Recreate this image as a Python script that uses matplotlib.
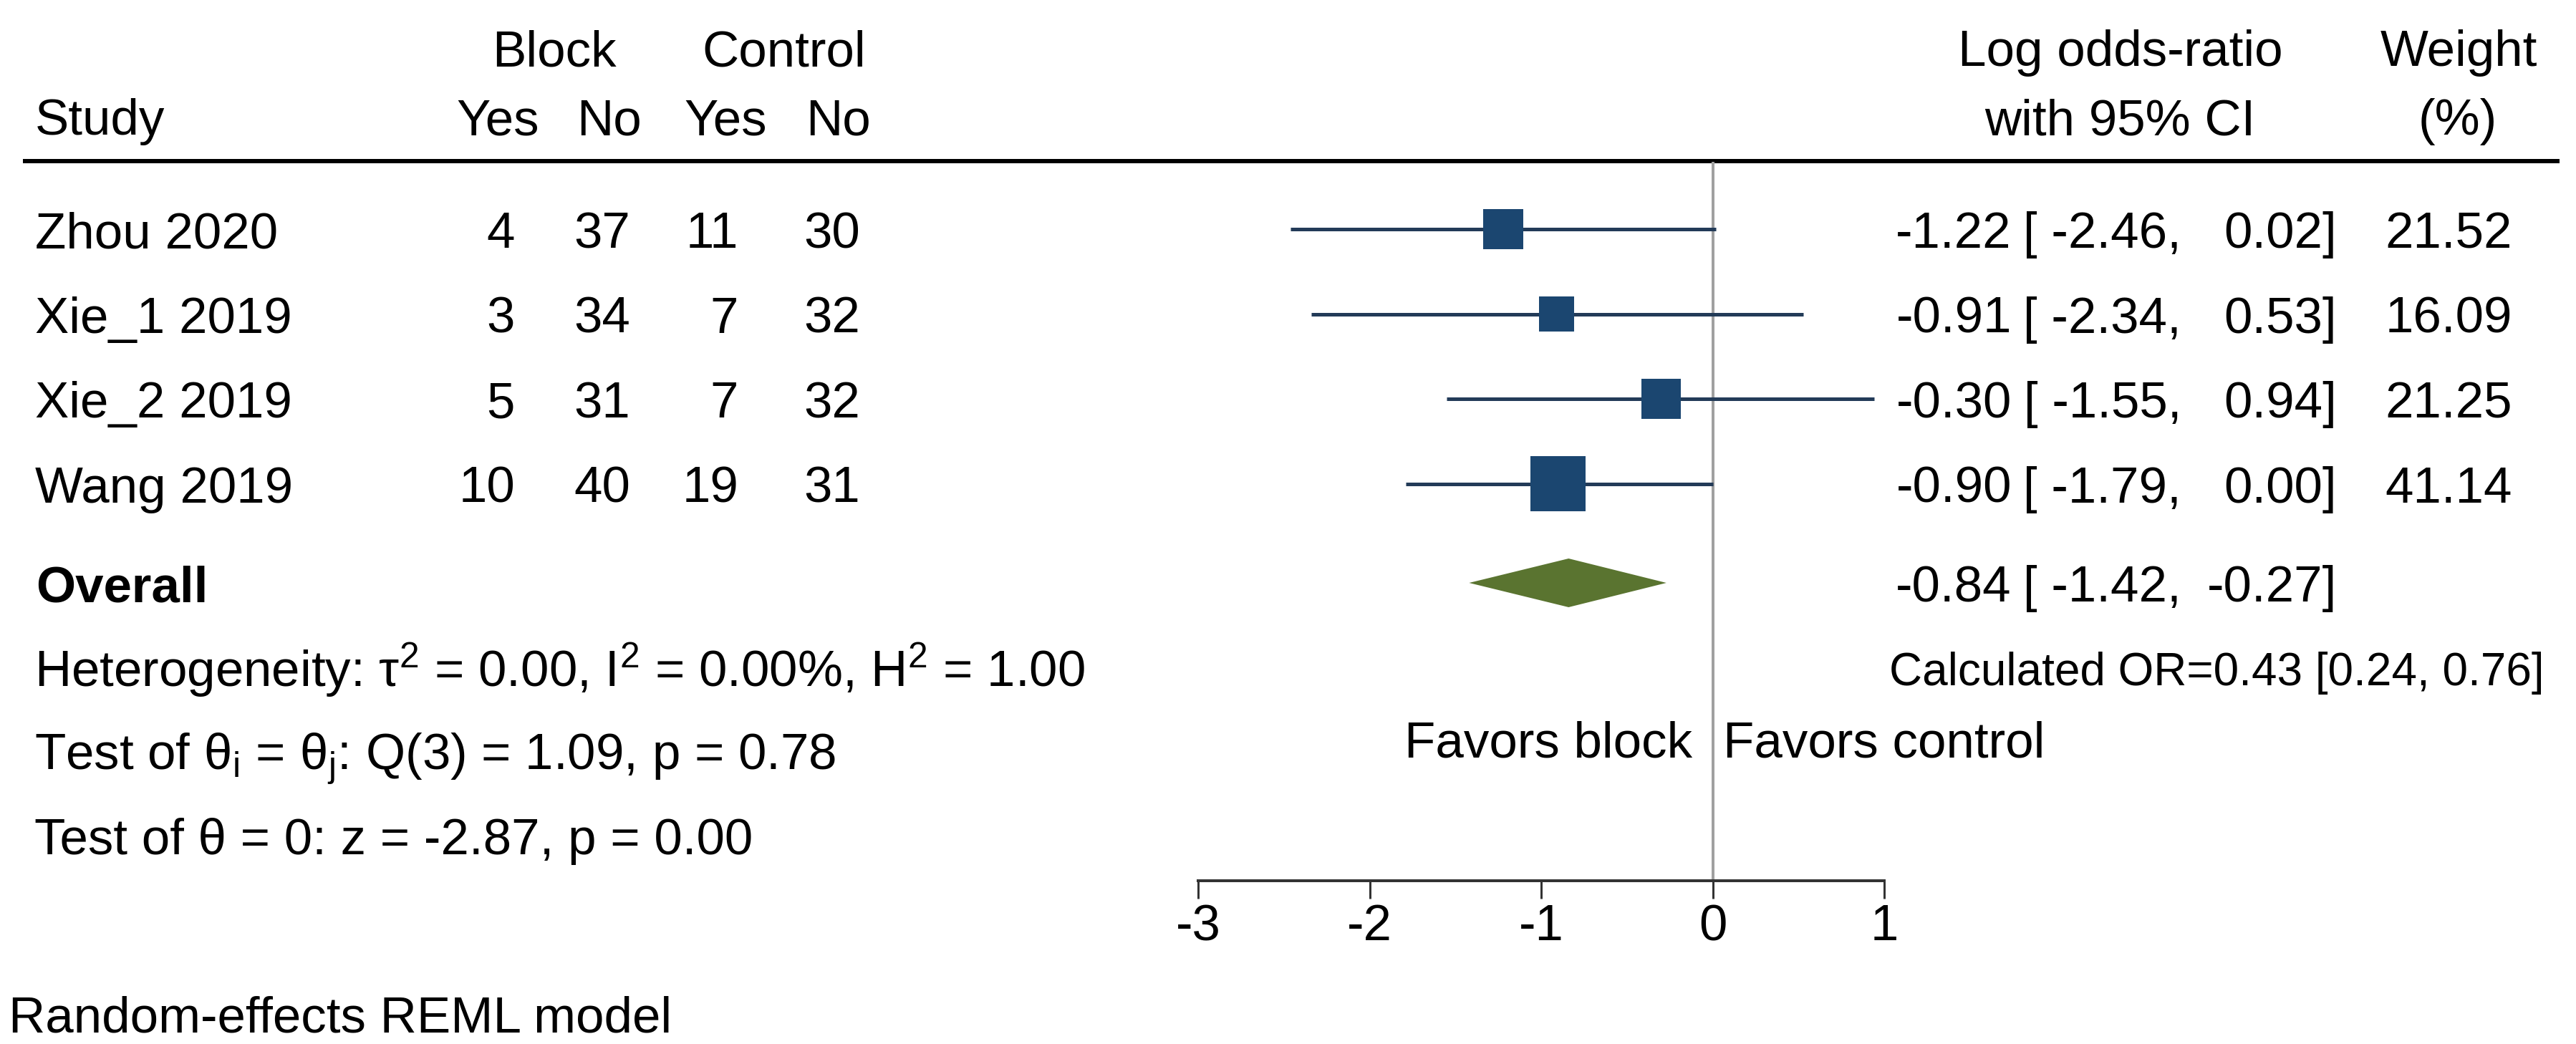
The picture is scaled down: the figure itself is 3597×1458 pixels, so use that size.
import numpy as np
import matplotlib
matplotlib.use("Agg")
import matplotlib.pyplot as plt
from matplotlib.patches import Polygon

plt.rcParams['font.family'] = ['Liberation Sans', 'DejaVu Sans']
plt.rcParams['mathtext.fontset'] = 'custom'
plt.rcParams['mathtext.rm'] = 'Liberation Sans'
plt.rcParams['mathtext.it'] = 'Liberation Sans:italic'
plt.rcParams['axes.unicode_minus'] = False

# data
studies = ["Zhou 2020", "Xie_1 2019", "Xie_2 2019", "Wang 2019"]
block_yes = [4, 3, 5, 10]
block_no = [37, 34, 31, 40]
ctrl_yes = [11, 7, 7, 19]
ctrl_no = [30, 32, 32, 31]
log_or = [-1.22, -0.91, -0.30, -0.90]
ci_lo = [-2.46, -2.34, -1.55, -1.79]
ci_hi = [0.02, 0.53, 0.94, 0.00]
weight = [21.52, 16.09, 21.25, 41.14]
overall = [-0.84, -1.42, -0.27]   # estimate, lower, upper
xticks = [-3, -2, -1, 0, 1]

W, H = 3597, 1458
DPI = 100
FS = 51
PT = 72.0 / DPI   # points per pixel

fig = plt.figure(figsize=(W / DPI, H / DPI), dpi=DPI)
fig.patch.set_facecolor('white')

# layout axes in pixel units (text, rule)
lay = fig.add_axes([0, 0, 1, 1])
lay.set_xlim(0, W)
lay.set_ylim(H, 0)
lay.axis('off')

# forest axes: x in log odds, y in pixel rows
x0_px, x1_px = 1673, 2631
ax = fig.add_axes([x0_px / W, 0, (x1_px - x0_px) / W, 1])
ax.set_xlim(-3, 1)
ax.set_ylim(H, 0)
ax.patch.set_alpha(0)

row0, step = 320, 118.5
rows_y = row0 + step * np.arange(len(studies))
overall_y = 814
axis_y = 1230

# zero reference line
ax.plot([0, 0], [228, axis_y], color='#a0a0a0', lw=4 * PT, zorder=1)

# CIs and weighted squares
ax.hlines(rows_y, ci_lo, ci_hi, color='#233b58', lw=5 * PT, zorder=2)
side_px = 77 * np.sqrt(np.array(weight) / max(weight))
ax.scatter(log_or, rows_y, marker='s', s=(side_px * PT) ** 2,
           color='#1b4670', linewidths=0, zorder=3)

# overall diamond
est, lo, hi = overall
dh = 34
diamond = Polygon([[lo, overall_y], [est, overall_y - dh], [hi, overall_y], [est, overall_y + dh]],
                  closed=True, facecolor='#5a7430', edgecolor='none', zorder=3)
ax.add_patch(diamond)

# x axis
for s in ['left', 'right', 'top']:
    ax.spines[s].set_visible(False)
ax.spines['bottom'].set_position(('data', axis_y))
ax.spines['bottom'].set_bounds(-3, 1)
ax.spines['bottom'].set_linewidth(4 * PT)
ax.spines['bottom'].set_color('#333333')
ax.set_xticks(xticks)
ax.set_xticklabels([str(t) for t in xticks])
ax.tick_params(axis='x', length=25 * PT, width=3 * PT, color='#333333',
               pad=7 * PT, labelsize=FS, direction='out')
ax.set_yticks([])

# header
lay.plot([32, 3574], [225, 225], color='black', lw=6 * PT, solid_capstyle='butt')
lay.text(774, 92, "Block", fontsize=FS, ha='center', va='baseline')
lay.text(1095, 92, "Control", fontsize=FS, ha='center', va='baseline')
lay.text(49, 188, "Study", fontsize=FS, ha='left', va='baseline')
for lab, xr in zip(["Yes", "No", "Yes", "No"], [753, 896, 1071, 1216]):
    lay.text(xr, 188, lab, fontsize=FS, ha='right', va='baseline')
lay.text(2961, 92, "Log odds-ratio", fontsize=FS, ha='center', va='baseline')
lay.text(2960, 188, "with 95% CI", fontsize=FS, ha='center', va='baseline')
lay.text(3433, 92, "Weight", fontsize=FS, ha='center', va='baseline')
lay.text(3432, 188, "(%)", fontsize=FS, ha='center', va='baseline')

# study rows
cols = [block_yes, block_no, ctrl_yes, ctrl_no]
col_right = [719, 880, 1031, 1201]
for i, name in enumerate(studies):
    yb = rows_y[i] + 26
    lay.text(49, yb, name, fontsize=FS, ha='left', va='baseline')
    for c, xr in zip(cols, col_right):
        lay.text(xr, yb, str(c[i]), fontsize=FS, ha='right', va='baseline')
    lay.text(2809, yb, f"{log_or[i]:.2f}", fontsize=FS, ha='right', va='baseline')
    lay.text(3046, yb, f"[ {ci_lo[i]:.2f},", fontsize=FS, ha='right', va='baseline')
    lay.text(3263, yb, f"{ci_hi[i]:.2f}]", fontsize=FS, ha='right', va='baseline')
    lay.text(3508, yb, f"{weight[i]:.2f}", fontsize=FS, ha='right', va='baseline')

yb = overall_y + 26
lay.text(50, yb, "Overall", fontsize=FS, fontweight='bold', ha='left', va='baseline')
lay.text(2809, yb, f"{est:.2f}", fontsize=FS, ha='right', va='baseline')
lay.text(3046, yb, f"[ {lo:.2f},", fontsize=FS, ha='right', va='baseline')
lay.text(3263, yb, f"{hi:.2f}]", fontsize=FS, ha='right', va='baseline')

# statistics
lay.text(48, 958, r"Heterogeneity: τ$^\mathrm{2}$ = 0.00, I$^\mathrm{2}$ = 0.00%, H$^\mathrm{2}$ = 1.00",
         fontsize=FS, ha='left', va='baseline')
lay.text(48, 1074, r"Test of θ$_\mathrm{i}$ = θ$_\mathrm{j}$: Q(3) = 1.09, p = 0.78",
         fontsize=FS, ha='left', va='baseline')
lay.text(48, 1193, "Test of θ = 0: z = -2.87, p = 0.00", fontsize=FS, ha='left', va='baseline')
lay.text(3552, 957, "Calculated OR=0.43 [0.24, 0.76]", fontsize=46, ha='right', va='baseline')
lay.text(2363, 1058, "Favors block", fontsize=FS, ha='right', va='baseline')
lay.text(2406, 1058, "Favors control", fontsize=FS, ha='left', va='baseline')
lay.text(12, 1441, "Random-effects REML model", fontsize=FS, ha='left', va='baseline')

fig.savefig("out.png", dpi=DPI, facecolor='white')
